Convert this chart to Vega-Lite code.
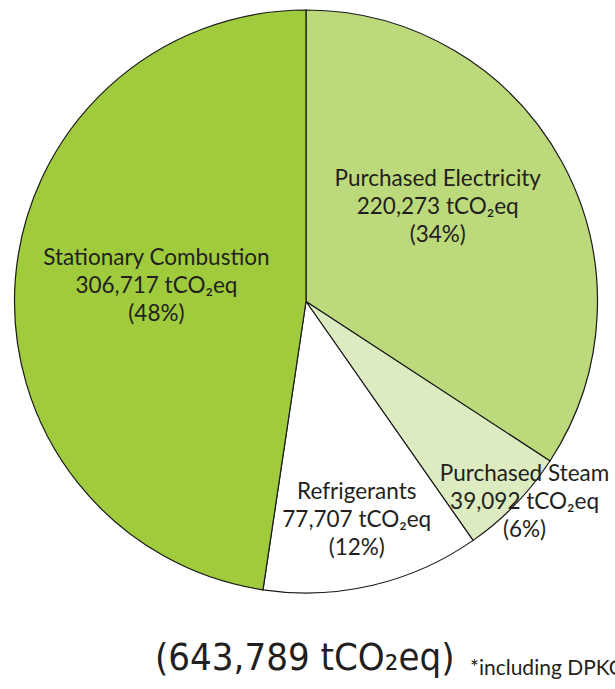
{
  "$schema": "https://vega.github.io/schema/vega-lite/v6.json",
  "width": 612,
  "height": 603,
  "autosize": {"type": "none"},
  "padding": {"left": 0, "top": 0, "right": 3, "bottom": 86},
  "background": "white",
  "config": {"view": {"stroke": null}},
  "title": {
    "text": "(643,789 tCO₂eq)",
    "subtitle": "\u2800\u2800\u2800\u2800\u2800\u2800\u2800\u2800\u2800\u2800\u2800\u2800\u2800\u2800\u2800\u2800\u2800\u2800\u2800\u2800\u2800*including DPKO",
    "orient": "bottom",
    "anchor": "start",
    "frame": "group",
    "dx": 155,
    "offset": 37,
    "font": "'Liberation Sans Narrow', 'DejaVu Sans Condensed', 'Roboto Condensed', Roboto, sans-serif",
    "fontSize": 38,
    "fontWeight": "normal",
    "color": "#231f20",
    "subtitleFont": "Lato, sans-serif",
    "subtitleFontSize": 21,
    "subtitleColor": "#231f20",
    "subtitlePadding": -20
  },
  "data": {
    "values": [
      {"category": "Purchased Electricity", "value": 220273, "pct": 34, "ord": 1},
      {"category": "Purchased Steam", "value": 39092, "pct": 6, "ord": 2},
      {"category": "Refrigerants", "value": 77707, "pct": 12, "ord": 3},
      {"category": "Stationary Combustion", "value": 306717, "pct": 48, "ord": 4}
    ]
  },
  "transform": [
    {"calculate": "[datum.category, format(datum.value, ',') + ' tCO₂eq', '(' + datum.pct + '%)']", "as": "label"}
  ],
  "layer": [
    {
      "mark": {"type": "arc", "outerRadius": 291.5, "stroke": "#1a1a1a", "strokeWidth": 1.2},
      "encoding": {
        "theta": {"field": "value", "type": "quantitative", "stack": true},
        "order": {"field": "ord", "type": "quantitative"},
        "color": {
          "field": "category",
          "type": "nominal",
          "scale": {
            "domain": ["Purchased Electricity", "Purchased Steam", "Refrigerants", "Stationary Combustion"],
            "range": ["#bcda7c", "#ddebc0", "#ffffff", "#a0cb3c"]
          },
          "legend": null
        }
      }
    },
    {
      "mark": {"type": "text", "font": "Lato, sans-serif", "fontSize": 22.5, "lineHeight": 28, "color": "#231f20", "baseline": "middle", "align": "center", "radius": 160, "dx": -9, "dy": -46},
      "encoding": {
        "theta": {"field": "value", "type": "quantitative", "stack": true},
        "order": {"field": "ord", "type": "quantitative"},
        "text": {"condition": {"test": "datum.category === 'Purchased Electricity'", "field": "label"}, "value": ""}
      }
    },
    {
      "mark": {"type": "text", "font": "Lato, sans-serif", "fontSize": 22.5, "lineHeight": 28, "color": "#231f20", "baseline": "middle", "align": "center", "radius": 296, "dx": 6, "dy": -34},
      "encoding": {
        "theta": {"field": "value", "type": "quantitative", "stack": true},
        "order": {"field": "ord", "type": "quantitative"},
        "text": {"condition": {"test": "datum.category === 'Purchased Steam'", "field": "label"}, "value": ""}
      }
    },
    {
      "mark": {"type": "text", "font": "Lato, sans-serif", "fontSize": 22.5, "lineHeight": 28, "color": "#231f20", "baseline": "middle", "align": "center", "radius": 226, "dx": -1, "dy": -29},
      "encoding": {
        "theta": {"field": "value", "type": "quantitative", "stack": true},
        "order": {"field": "ord", "type": "quantitative"},
        "text": {"condition": {"test": "datum.category === 'Refrigerants'", "field": "label"}, "value": ""}
      }
    },
    {
      "mark": {"type": "text", "font": "Lato, sans-serif", "fontSize": 22.5, "lineHeight": 28, "color": "#231f20", "baseline": "middle", "align": "center", "radius": 150, "dx": 0, "dy": -32},
      "encoding": {
        "theta": {"field": "value", "type": "quantitative", "stack": true},
        "order": {"field": "ord", "type": "quantitative"},
        "text": {"condition": {"test": "datum.category === 'Stationary Combustion'", "field": "label"}, "value": ""}
      }
    }
  ]
}
